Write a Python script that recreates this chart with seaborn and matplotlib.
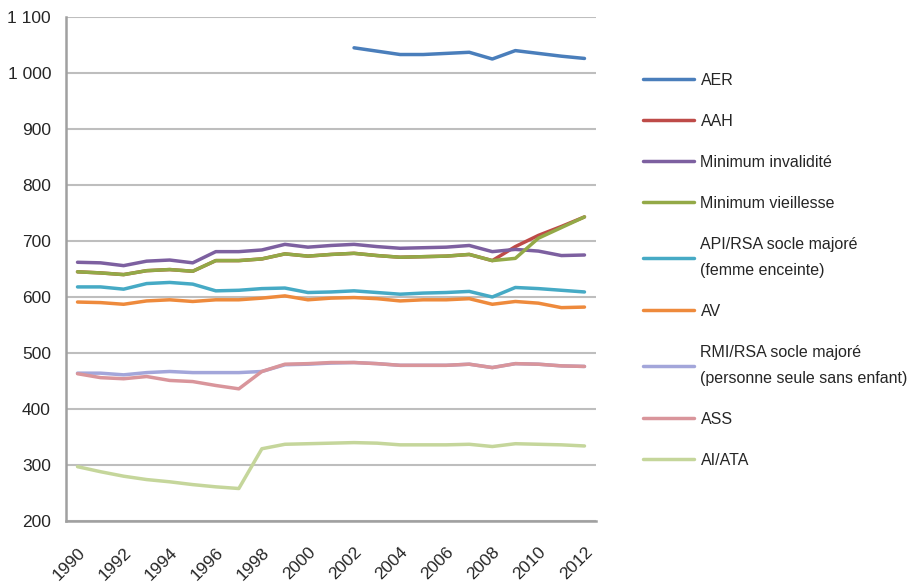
import numpy as np
import pandas as pd
import matplotlib
matplotlib.use("Agg")
import matplotlib.pyplot as plt
from matplotlib import font_manager
from matplotlib.ticker import FuncFormatter, FixedLocator
import seaborn as sns

years = list(range(1990, 2013))

aer = [np.nan] * 12 + [1045, 1039, 1033, 1033, 1035, 1037, 1025, 1040, 1035, 1030, 1026]
min_vieillesse = [645, 643, 640, 647, 649, 646, 665, 665, 668, 677, 673, 676, 678, 674, 671, 672, 673, 676, 665, 669, 705, 724, 743]
aah = min_vieillesse[:19] + [690, 710, 726, 743]
min_invalidite = [662, 661, 656, 664, 666, 661, 681, 681, 684, 694, 689, 692, 694, 690, 687, 688, 689, 692, 681, 685, 682, 674, 675]
api = [618, 618, 614, 624, 626, 623, 611, 612, 615, 616, 608, 609, 611, 608, 605, 607, 608, 610, 600, 617, 615, 612, 609]
av = [591, 590, 587, 593, 595, 592, 595, 595, 598, 602, 595, 598, 599, 597, 593, 595, 595, 597, 587, 592, 589, 581, 582]
rmi = [464, 464, 461, 465, 467, 465, 465, 465, 467, 479, 480, 482, 483, 481, 478, 478, 478, 480, 474, 481, 480, 477, 476]
ass = [463, 456, 454, 458, 451, 449, 442, 436, 467, 480, 481, 483, 483, 481, 478, 478, 478, 480, 474, 481, 480, 477, 476]
ai_ata = [297, 288, 280, 274, 270, 265, 261, 258, 329, 337, 338, 339, 340, 339, 336, 336, 336, 337, 333, 338, 337, 336, 334]

series_names = ["AER", "AAH", "Minimum invalidité", "Minimum vieillesse",
                "API/RSA socle majoré\n(femme enceinte)", "AV",
                "RMI/RSA socle majoré\n(personne seule sans enfant)", "ASS", "AI/ATA"]
series_values = [aer, aah, min_invalidite, min_vieillesse, api, av, rmi, ass, ai_ata]
colors = ["#4A7EBB", "#BE4B48", "#7D60A0", "#93A947", "#46AAC5",
          "#EE8A3C", "#A3A6DA", "#D9959B", "#C5D69B"]

rows = []
for name, vals in zip(series_names, series_values):
    for i, v in enumerate(vals):
        rows.append({"pos": i, "serie": name, "valeur": v})
df = pd.DataFrame(rows)

# narrow font if one is around
installed = {f.name for f in font_manager.fontManager.ttflist}
family = "Liberation Sans"
tick_size, leg_size = 12.5, 11.5
if "Liberation Sans Narrow" in installed:
    family = "Liberation Sans Narrow"
    tick_size, leg_size = 13.5, 13.5

sns.set_style("white")
plt.rcParams["font.family"] = [family, "DejaVu Sans"]

fig = plt.figure(figsize=(9.11, 5.82), dpi=100)
ax = fig.add_axes([66 / 911, 1 - 521 / 582, 530 / 911, 504 / 582])

sns.lineplot(data=df, x="pos", y="valeur", hue="serie", hue_order=series_names,
             palette=colors, linewidth=2.5, ax=ax, legend=False)

ax.set_xlim(-0.5, len(years) - 0.5)
ax.set_ylim(200, 1100)
ax.set_yticks(range(200, 1101, 100))
ax.yaxis.set_major_formatter(FuncFormatter(lambda v, p: f"{int(v):,}".replace(",", " ")))
ax.grid(axis="y", color="#BEBEBE", linewidth=1.5)
ax.set_axisbelow(True)

ax.set_xticks(range(0, len(years), 2))
ax.set_xticklabels([str(y) for y in years[::2]], rotation=45, ha="right",
                   rotation_mode="anchor")
ax.xaxis.set_minor_locator(FixedLocator(np.arange(-0.5, len(years), 1)))
ax.tick_params(axis="x", which="major", length=0, pad=17, labelsize=tick_size)
ax.tick_params(axis="x", which="minor", length=5, width=1.3, color="#A0A0A0", direction="out")
ax.tick_params(axis="y", length=5.8, width=1.3, color="#BEBEBE", direction="out",
               labelsize=tick_size, pad=5)

for s in ["top", "right"]:
    ax.spines[s].set_visible(False)
for s in ["left", "bottom"]:
    ax.spines[s].set_color("#A0A0A0")
    ax.spines[s].set_linewidth(1.8)

ax.set_xlabel("")
ax.set_ylabel("")

handles = [plt.Line2D([], [], color=c, linewidth=2.5) for c in colors]
leg = fig.legend(handles, series_names, loc="upper left", bbox_to_anchor=(643 / 911, 1 - 73 / 582),
                 frameon=False, fontsize=leg_size, handlelength=3.2, handletextpad=0.4,
                 labelspacing=1.62, borderaxespad=0, borderpad=0)
for t in leg.get_texts():
    t.set_linespacing(1.95)

fig.savefig("out.png", dpi=100)
